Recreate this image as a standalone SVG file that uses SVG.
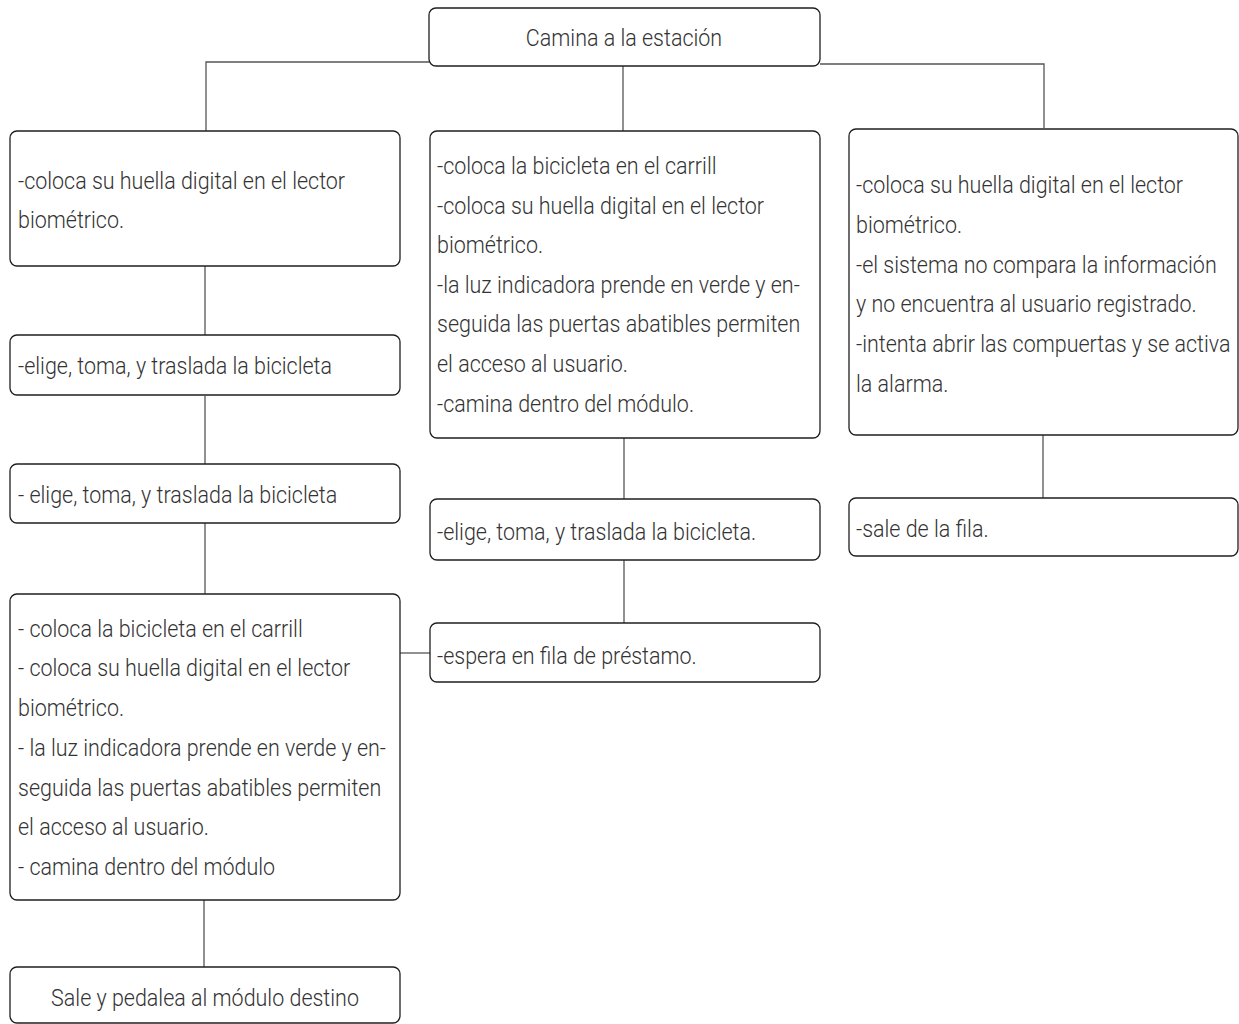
<svg xmlns="http://www.w3.org/2000/svg" width="1239" height="1024" viewBox="0 0 1239 1024">
  <style>
    .box { fill: #ffffff; stroke: #1f1f1f; stroke-width: 1.3; }
    .link { fill: none; stroke: #555555; stroke-width: 1.3; }
    text { font-family: Roboto, "Liberation Sans", sans-serif; font-weight: 300; font-size: 23.5px; fill: #333333; }
    .mid { text-anchor: middle; }
  </style>
  <rect width="1239" height="1024" fill="#ffffff"/>

  <g id="connectors">
    <path class="link" d="M429 62 H206 V131"/>
    <path class="link" d="M623 66 V131"/>
    <path class="link" d="M820 64 H1044 V128"/>
    <path class="link" d="M205 266 V335"/>
    <path class="link" d="M205 396 V464"/>
    <path class="link" d="M205 523 V594"/>
    <path class="link" d="M204 900 V967"/>
    <path class="link" d="M624 438 V499"/>
    <path class="link" d="M624 560 V623"/>
    <path class="link" d="M1043 435 V498"/>
    <path class="link" d="M400 653 H430"/>
  </g>

  <g id="start">
    <rect class="box" x="429" y="8" width="391" height="58" rx="7"/>
    <g transform="translate(624 0) scale(0.914 1)">
      <text class="mid" x="0" y="46">Camina a la estación</text>
    </g>
  </g>

  <g id="left-1">
    <rect class="box" x="10" y="131" width="390" height="135" rx="7"/>
    <g transform="translate(18 0) scale(0.914 1)">
      <text x="0" y="189">-coloca su huella digital en el lector</text>
      <text x="0" y="228">biométrico.</text>
    </g>
  </g>

  <g id="left-2">
    <rect class="box" x="10" y="335" width="390" height="60" rx="7"/>
    <g transform="translate(18 0) scale(0.914 1)">
      <text x="0" y="374">-elige, toma, y traslada la bicicleta</text>
    </g>
  </g>

  <g id="left-3">
    <rect class="box" x="10" y="464" width="390" height="59" rx="7"/>
    <g transform="translate(18 0) scale(0.914 1)">
      <text x="0" y="503">- elige, toma, y traslada la bicicleta</text>
    </g>
  </g>

  <g id="left-4">
    <rect class="box" x="10" y="594" width="390" height="306" rx="7"/>
    <g transform="translate(18 0) scale(0.914 1)">
      <text x="0" y="637">- coloca la bicicleta en el carrill</text>
      <text x="0" y="676">- coloca su huella digital en el lector</text>
      <text x="0" y="716">biométrico.</text>
      <text x="0" y="756">- la luz indicadora prende en verde y en-</text>
      <text x="0" y="796">seguida las puertas abatibles permiten</text>
      <text x="0" y="835">el acceso al usuario.</text>
      <text x="0" y="875">- camina dentro del módulo</text>
    </g>
  </g>

  <g id="left-5">
    <rect class="box" x="10" y="967" width="390" height="56" rx="7"/>
    <g transform="translate(205 0) scale(0.914 1)">
      <text class="mid" x="0" y="1006">Sale y pedalea al módulo destino</text>
    </g>
  </g>

  <g id="middle-1">
    <rect class="box" x="430" y="131" width="390" height="307" rx="7"/>
    <g transform="translate(437 0) scale(0.914 1)">
      <text x="0" y="174">-coloca la bicicleta en el carrill</text>
      <text x="0" y="214">-coloca su huella digital en el lector</text>
      <text x="0" y="253">biométrico.</text>
      <text x="0" y="293">-la luz indicadora prende en verde y en-</text>
      <text x="0" y="332">seguida las puertas abatibles permiten</text>
      <text x="0" y="372">el acceso al usuario.</text>
      <text x="0" y="412">-camina dentro del módulo.</text>
    </g>
  </g>

  <g id="middle-2">
    <rect class="box" x="430" y="499" width="390" height="61" rx="7"/>
    <g transform="translate(437 0) scale(0.914 1)">
      <text x="0" y="540">-elige, toma, y traslada la bicicleta.</text>
    </g>
  </g>

  <g id="middle-3">
    <rect class="box" x="430" y="623" width="390" height="59" rx="7"/>
    <g transform="translate(437 0) scale(0.914 1)">
      <text x="0" y="664">-espera en fila de préstamo.</text>
    </g>
  </g>

  <g id="right-1">
    <rect class="box" x="849" y="129" width="389" height="306" rx="7"/>
    <g transform="translate(856 0) scale(0.914 1)">
      <text x="0" y="193">-coloca su huella digital en el lector</text>
      <text x="0" y="233">biométrico.</text>
      <text x="0" y="273">-el sistema no compara la información</text>
      <text x="0" y="312">y no encuentra al usuario registrado.</text>
      <text x="0" y="352">-intenta abrir las compuertas y se activa</text>
      <text x="0" y="392">la alarma.</text>
    </g>
  </g>

  <g id="right-2">
    <rect class="box" x="849" y="498" width="389" height="58" rx="7"/>
    <g transform="translate(856 0) scale(0.914 1)">
      <text x="0" y="537">-sale de la fila.</text>
    </g>
  </g>
</svg>
